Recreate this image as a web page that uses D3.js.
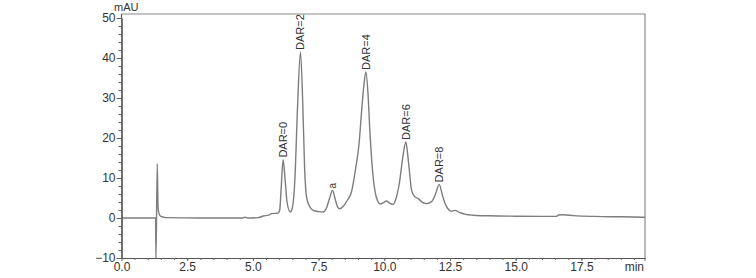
<!DOCTYPE html>
<html>
<head>
<meta charset="utf-8">
<script src="https://cdn.jsdelivr.net/npm/d3@7"></script>
<style>
  body { margin: 0; background: #fff; }
  text { font-family: "Liberation Sans", Arial, sans-serif; }
</style>
</head>
<body>
<svg id="chart"></svg>
<script>
const w = 756;
const h = 278;
const margin = { top: 14, right: 111, bottom: 20, left: 121.5 };

// retention time (min) and absorbance (mAU)
const times = [0, 1.28, 1.30, 1.31, 1.36, 1.39, 1.43, 1.5, 1.7, 3.0, 4.6, 4.7, 4.8, 5.2, 5.4, 5.6, 5.7, 5.95,
    6.02, 6.08, 6.15, 6.22, 6.3, 6.42, 6.5, 6.6, 6.7, 6.81, 6.9, 6.97, 7.04, 7.15, 7.29, 7.5, 7.67, 7.8, 7.92,
    8.03, 8.12, 8.22, 8.31, 8.45, 8.6, 8.75, 8.9, 9.04, 9.14, 9.22, 9.30, 9.38, 9.45, 9.55, 9.64, 9.75, 9.85,
    9.95, 10.09, 10.2, 10.34, 10.45, 10.58, 10.7, 10.82, 10.92, 11.04, 11.15, 11.29, 11.45, 11.61, 11.75, 11.84,
    11.95, 12.09, 12.2, 12.3, 12.4, 12.55, 12.7, 12.85, 13.1, 13.4, 14.0, 15.0, 16.0, 16.55, 16.62, 16.8, 17.2,
    18.0, 19.0, 19.92];
const mAU = [0, 0, 0, -10.5, 13.6, 3, 1, 0.4, 0.1, 0, 0, 0.2, 0, 0.1, 0.5, 0.7, 1.1, 1.2,
    2, 8, 14.6, 10, 4, 1.5, 2.5, 10, 28, 41.5, 28, 12, 5.3, 3, 1.9, 1.6, 1.5, 2.5, 5,
    6.9, 5, 2.8, 2.3, 3, 4.5, 6.5, 12, 18.6, 27, 33, 36.5, 31, 21.9, 12, 6.9, 4.2, 3.5,
    3.8, 4.25, 3.7, 3.4, 5, 9, 15, 19, 14, 6.9, 5.4, 4.85, 3.9, 3.6, 3.9, 4.4,
    6, 8.4, 6, 3.8, 2.5, 1.7, 1.9, 1.4, 0.9, 0.7, 0.55, 0.45, 0.4, 0.4, 0.75, 0.8, 0.6,
    0.4, 0.3, 0.2];

const peakLabels = ["DAR=0", "DAR=2", "a", "DAR=4", "DAR=6", "DAR=8"];
const peakTimes = [6.15, 6.81, 8.03, 9.30, 10.82, 12.09];

const xTicks = [0, 2.5, 5, 7.5, 10, 12.5, 15, 17.5];
const yTicks = [-10, 0, 10, 20, 30, 40, 50];

const data = times.map((t, i) => [t, mAU[i]]);

const xScale = d3.scaleLinear()
    .domain([0, 19.92])
    .range([margin.left, w - margin.right]);
const yScale = d3.scaleLinear()
    .domain([-10, 50])
    .range([258, 18]);

const svg = d3.select("#chart")
    .attr("width", w)
    .attr("height", h);

const plotTop = margin.top;
const plotBottom = yScale(-10);
const plotRight = xScale(19.92);

// frame (top and right)
svg.append("path")
    .attr("d", `M${margin.left},${plotTop}H${plotRight}V${plotBottom + 3}`)
    .attr("fill", "none")
    .attr("stroke", "#8a8a8a")
    .attr("stroke-width", 1.2);

svg.append("clipPath")
    .attr("id", "clip")
    .append("rect")
    .attr("x", margin.left)
    .attr("y", plotTop)
    .attr("width", plotRight - margin.left)
    .attr("height", plotBottom - plotTop);

const line = d3.line()
    .x(d => xScale(d[0]))
    .y(d => yScale(d[1]))
    .curve(d3.curveMonotoneX);

svg.append("path")
    .datum(data)
    .attr("clip-path", "url(#clip)")
    .attr("d", line)
    .attr("fill", "none")
    .attr("stroke", "#7d7d7d")
    .attr("stroke-width", 1.4);

// x axis
const xAxis = d3.axisBottom(xScale)
    .tickValues(xTicks)
    .tickFormat(d3.format(".1f"))
    .tickSize(3)
    .tickPadding(1)
    .tickSizeOuter(0);
const gx = svg.append("g")
    .attr("transform", `translate(0,${plotBottom})`)
    .call(xAxis);
svg.append("g")
    .attr("transform", `translate(0,${plotBottom})`)
    .call(d3.axisBottom(xScale).tickValues(d3.range(0.5, 19.9, 0.5)).tickFormat("").tickSize(2).tickSizeOuter(0));

// y axis
const yAxis = d3.axisLeft(yScale)
    .tickValues(yTicks)
    .tickSize(5)
    .tickSizeOuter(0);
const gy = svg.append("g")
    .attr("transform", `translate(${margin.left},0)`)
    .call(yAxis);
svg.append("g")
    .attr("transform", `translate(${margin.left},0)`)
    .call(d3.axisLeft(yScale).tickValues(d3.range(-8, 51, 2)).tickFormat("").tickSize(3).tickSizeOuter(0));

svg.selectAll(".domain").attr("stroke", "#555").attr("stroke-width", 1.2);
svg.selectAll(".tick line").attr("stroke", "#666");
svg.selectAll(".tick text")
    .attr("fill", "#333")
    .style("font-size", "12px");
gy.selectAll(".tick text").attr("x", -6);
// y axis line extends to the top frame
svg.append("line")
    .attr("x1", margin.left).attr("x2", margin.left)
    .attr("y1", plotTop).attr("y2", yScale(50))
    .attr("stroke", "#555").attr("stroke-width", 1.2);

svg.append("text")
    .attr("x", 114)
    .attr("y", 10.5)
    .attr("fill", "#333")
    .style("font-size", "11px")
    .text("mAU");

svg.append("text")
    .attr("x", plotRight - 1)
    .attr("y", 270.5)
    .attr("text-anchor", "end")
    .attr("fill", "#333")
    .style("font-size", "12px")
    .text("min");

// peak labels
svg.selectAll(".peak")
    .data(peakLabels.map((l, i) => ({ label: l, t: peakTimes[i], v: mAU[times.indexOf(peakTimes[i])] })))
    .enter()
    .append("text")
    .attr("class", "peak")
    .attr("transform", d => `translate(${xScale(d.t)},${yScale(d.v) - 2}) rotate(-90)`)
    .attr("dy", "0.35em")
    .attr("text-anchor", "start")
    .attr("fill", "#333")
    .style("font-size", d => d.label === "a" ? "10px" : "11px")
    .text(d => d.label);
</script>
</body>
</html>
